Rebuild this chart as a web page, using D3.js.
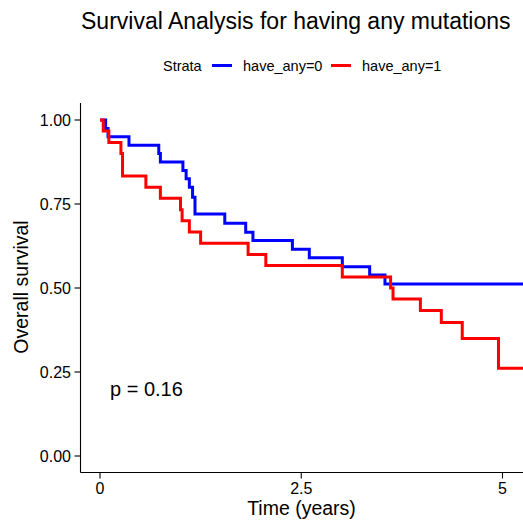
<!DOCTYPE html>
<html>
<head>
<meta charset="utf-8">
<script src="https://d3js.org/d3.v7.min.js"></script>
<style>
    body { margin: 0; background: #fff; }
    svg text { font-family: "Liberation Sans", Arial, sans-serif; fill: #000; }
</style>
</head>
<body>
<script>
// strata
var strata = ["have_any=0", "have_any=1"];
var colors = ["#0000FF", "#FF0000"];

// KM steps (time in years, survival)
var timeBlue = [0, 0.07, 0.10, 0.36, 0.73, 0.75, 1.03, 1.07, 1.11, 1.15, 1.18, 1.55, 1.81, 1.90, 2.39, 2.60, 3.01, 3.35, 3.54, 5.6];
var survBlue = [1.0, 0.975, 0.95, 0.925, 0.90, 0.875, 0.85, 0.825, 0.80, 0.77, 0.72, 0.693, 0.666, 0.641, 0.615, 0.590, 0.563, 0.539, 0.512, 0.512];

var timeRed = [0, 0.04, 0.11, 0.26, 0.28, 0.57, 0.75, 1.00, 1.02, 1.11, 1.25, 1.84, 2.06, 3.01, 3.61, 3.64, 3.98, 4.24, 4.50, 4.95, 5.6];
var survRed = [1.0, 0.967, 0.933, 0.90, 0.833, 0.80, 0.767, 0.733, 0.70, 0.667, 0.633, 0.60, 0.567, 0.533, 0.50, 0.467, 0.433, 0.397, 0.35, 0.261, 0.261];

var xTicks = [0, 2.5, 5];
var yTicks = [0, 0.25, 0.5, 0.75, 1];
var pText = "p = 0.16";

var width = 523, height = 521;

var svg = d3.select("body").append("svg")
    .attr("width", width)
    .attr("height", height);

var x = d3.scaleLinear().domain([0, 5]).range([100, 502.5]);
var y = d3.scaleLinear().domain([0, 1]).range([456, 120]);

var panelLeft = 80.5, panelBottom = 472.5, panelTop = 103;

// title
svg.append("text")
    .attr("x", 81)
    .attr("y", 29)
    .style("font-size", "23px")
    .text("Survival Analysis for having any mutations");

// legend
var leg = svg.append("g");
leg.append("text").attr("x", 163).attr("y", 70.5)
    .style("font-size", "14.5px").text("Strata");
var legX = [212, 331];
strata.forEach(function(s, i) {
    leg.append("line")
        .attr("x1", legX[i]).attr("x2", legX[i] + 20)
        .attr("y1", 65.5).attr("y2", 65.5)
        .attr("stroke", colors[i]).attr("stroke-width", 3);
    leg.append("text").attr("x", legX[i] + 31).attr("y", 70.5)
        .style("font-size", "14.5px").text(s);
});

// curves
var line = d3.line()
    .x(function(d) { return x(d[0]); })
    .y(function(d) { return y(d[1]); })
    .curve(d3.curveStepAfter);

var series = [d3.zip(timeBlue, survBlue), d3.zip(timeRed, survRed)];

svg.append("g").selectAll("path")
    .data(series)
    .enter()
    .append("path")
    .attr("d", line)
    .attr("fill", "none")
    .attr("stroke", function(d, i) { return colors[i]; })
    .attr("stroke-width", 3);

// axes
var axisCol = "#000";
svg.append("line")
    .attr("x1", panelLeft).attr("x2", width)
    .attr("y1", panelBottom).attr("y2", panelBottom)
    .attr("stroke", axisCol).attr("stroke-width", 1.1);
svg.append("line")
    .attr("x1", panelLeft).attr("x2", panelLeft)
    .attr("y1", panelTop).attr("y2", panelBottom)
    .attr("stroke", axisCol).attr("stroke-width", 1.1);

var xAxis = svg.append("g");
xAxis.selectAll("line").data(xTicks).enter().append("line")
    .attr("x1", function(d) { return x(d); })
    .attr("x2", function(d) { return x(d); })
    .attr("y1", panelBottom).attr("y2", panelBottom + 6)
    .attr("stroke", axisCol).attr("stroke-width", 1.1);
xAxis.selectAll("text").data(xTicks).enter().append("text")
    .attr("x", function(d) { return x(d); })
    .attr("y", 494)
    .attr("text-anchor", "middle")
    .style("font-size", "16px")
    .text(function(d) { return d3.format("")(d); });

var yAxis = svg.append("g");
yAxis.selectAll("line").data(yTicks).enter().append("line")
    .attr("x1", panelLeft - 6).attr("x2", panelLeft)
    .attr("y1", function(d) { return y(d); })
    .attr("y2", function(d) { return y(d); })
    .attr("stroke", axisCol).attr("stroke-width", 1.1);
yAxis.selectAll("text").data(yTicks).enter().append("text")
    .attr("x", 71)
    .attr("y", function(d) { return y(d) + 6; })
    .attr("text-anchor", "end")
    .style("font-size", "16px")
    .text(function(d) { return d3.format(".2f")(d); });

// axis titles
svg.append("text")
    .attr("x", 301.5).attr("y", 515)
    .attr("text-anchor", "middle")
    .style("font-size", "19.5px")
    .text("Time (years)");
svg.append("text")
    .attr("transform", "translate(28,287) rotate(-90)")
    .attr("text-anchor", "middle")
    .style("font-size", "19.5px")
    .text("Overall survival");

// p value
svg.append("text")
    .attr("x", 110).attr("y", 396)
    .style("font-size", "20px")
    .text(pText);
</script>
</body>
</html>
